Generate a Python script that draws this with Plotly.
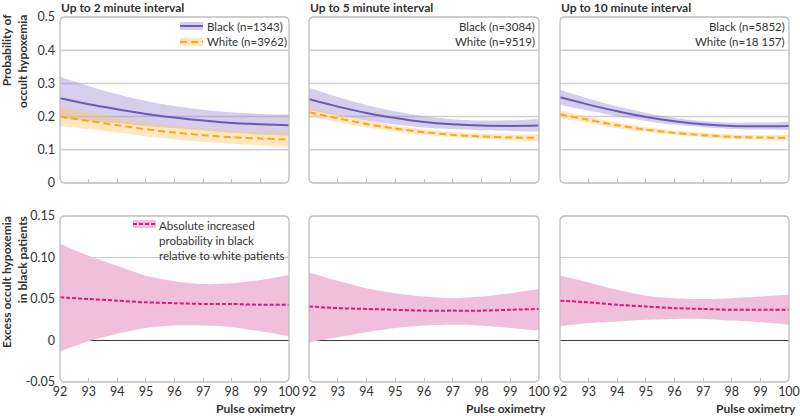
import plotly.graph_objects as go

# ---------------- data ----------------
spo2 = [92, 93, 94, 95, 96, 97, 98, 99, 100]
panel_titles = ["Up to 2 minute interval", "Up to 5 minute interval", "Up to 10 minute interval"]
black_labels = ["Black (n=1343)", "Black (n=3084)", "Black (n=5852)"]
white_labels = ["White (n=3962)", "White (n=9519)", "White (n=18 157)"]
y_top_ticks = [0, 0.1, 0.2, 0.3, 0.4, 0.5]
y_top_text = ["0", "0.1", "0.2", "0.3", "0.4", "0.5"]
y_bot_ticks = [-0.05, 0, 0.05, 0.10, 0.15]
y_bot_text = ["-0.05", "0", "0.05", "0.10", "0.15"]

# 2 minute interval
black_2 = [0.255, 0.237, 0.222, 0.208, 0.197, 0.188, 0.181, 0.177, 0.174]
black_2_hi = [0.320, 0.292, 0.267, 0.247, 0.232, 0.221, 0.213, 0.208, 0.206]
black_2_lo = [0.195, 0.187, 0.180, 0.172, 0.165, 0.158, 0.151, 0.146, 0.142]
white_2 = [0.200, 0.187, 0.174, 0.162, 0.152, 0.144, 0.138, 0.134, 0.131]
white_2_hi = [0.228, 0.212, 0.197, 0.184, 0.173, 0.165, 0.159, 0.156, 0.155]
white_2_lo = [0.172, 0.163, 0.152, 0.141, 0.132, 0.124, 0.118, 0.113, 0.108]
excess_2 = [0.052, 0.050, 0.048, 0.046, 0.045, 0.044, 0.044, 0.043, 0.043]
excess_2_hi = [0.1165, 0.102, 0.090, 0.078, 0.0715, 0.068, 0.069, 0.073, 0.079]
excess_2_lo = [-0.013, -0.001, 0.008, 0.015, 0.018, 0.018, 0.016, 0.011, 0.005]

# 5 minute interval
black_5 = [0.252, 0.230, 0.211, 0.196, 0.184, 0.177, 0.173, 0.172, 0.173]
black_5_hi = [0.287, 0.259, 0.235, 0.216, 0.201, 0.192, 0.188, 0.189, 0.193]
black_5_lo = [0.220, 0.203, 0.188, 0.176, 0.167, 0.162, 0.159, 0.157, 0.155]
white_5 = [0.213, 0.195, 0.178, 0.164, 0.153, 0.145, 0.140, 0.137, 0.136]
white_5_hi = [0.226, 0.206, 0.188, 0.173, 0.161, 0.153, 0.148, 0.146, 0.147]
white_5_lo = [0.200, 0.184, 0.168, 0.155, 0.145, 0.138, 0.133, 0.129, 0.126]
excess_5 = [0.041, 0.039, 0.038, 0.037, 0.036, 0.036, 0.036, 0.037, 0.038]
excess_5_hi = [0.082, 0.072, 0.063, 0.057, 0.053, 0.051, 0.053, 0.057, 0.062]
excess_5_lo = [-0.002, 0.004, 0.010, 0.015, 0.018, 0.019, 0.018, 0.015, 0.012]

# 10 minute interval
black_10 = [0.258, 0.236, 0.216, 0.199, 0.186, 0.177, 0.172, 0.171, 0.172]
black_10_hi = [0.280, 0.254, 0.231, 0.211, 0.196, 0.187, 0.182, 0.182, 0.184]
black_10_lo = [0.236, 0.218, 0.201, 0.187, 0.176, 0.168, 0.163, 0.161, 0.160]
white_10 = [0.207, 0.190, 0.174, 0.161, 0.151, 0.144, 0.139, 0.137, 0.136]
white_10_hi = [0.218, 0.199, 0.182, 0.168, 0.158, 0.151, 0.146, 0.144, 0.145]
white_10_lo = [0.196, 0.181, 0.166, 0.154, 0.145, 0.138, 0.133, 0.130, 0.128]
excess_10 = [0.048, 0.046, 0.043, 0.041, 0.039, 0.038, 0.037, 0.037, 0.037]
excess_10_hi = [0.078, 0.070, 0.061, 0.054, 0.051, 0.050, 0.051, 0.053, 0.055]
excess_10_lo = [0.017, 0.021, 0.023, 0.025, 0.026, 0.026, 0.024, 0.022, 0.019]

black = [black_2, black_5, black_10]
black_hi = [black_2_hi, black_5_hi, black_10_hi]
black_lo = [black_2_lo, black_5_lo, black_10_lo]
white = [white_2, white_5, white_10]
white_hi = [white_2_hi, white_5_hi, white_10_hi]
white_lo = [white_2_lo, white_5_lo, white_10_lo]
excess = [excess_2, excess_5, excess_10]
excess_hi = [excess_2_hi, excess_5_hi, excess_10_hi]
excess_lo = [excess_2_lo, excess_5_lo, excess_10_lo]

# ---------------- style ----------------
W, H = 800, 416
FONT = "Lato"
PURPLE = "#6a5ab4"
PURPLE_BAND = "rgba(150,135,210,0.40)"
ORANGE = "#f7a81b"
ORANGE_BAND = "rgba(253,200,110,0.45)"
MAGENTA = "#e0167f"
PINK_BAND = "#efbfdb"
TEXT = "#333333"
BORDER = "#bdbdbd"
GRID = "#cfcfcf"
FS_TICK = 12.5
FS_TXT = 11.5
FS_BOLD = 12

col_px = [(60, 289), (309, 539), (560, 789)]
top_px = (17, 183)
bot_px = (216, 382)


def px_x(p):
    return p / W


def px_y(p):
    return (H - p) / H


def sfx(n):
    return "" if n == 1 else str(n)


fig = go.Figure()
layout = dict(
    width=W, height=H, margin=dict(l=0, r=0, t=0, b=0, autoexpand=False),
    paper_bgcolor="white", plot_bgcolor="white", showlegend=False,
    font=dict(family=FONT, size=12, color=TEXT),
)
shapes = []
annotations = []


def spline(xs, ys, n, **kw):
    return go.Scatter(x=xs, y=ys, xaxis="x" + sfx(n), yaxis="y" + sfx(n), mode="lines",
                      hoverinfo="skip", **kw)


for i in range(3):
    tn = i + 1
    bn = i + 4
    x0p, x1p = col_px[i]
    dom_x = [px_x(x0p), px_x(x1p)]
    # axes
    for n, row in ((tn, "top"), (bn, "bot")):
        xkey = "xaxis" + sfx(n)
        ykey = "yaxis" + sfx(n)
        ydom = [px_y(top_px[1]), px_y(top_px[0])] if row == "top" else [px_y(bot_px[1]), px_y(bot_px[0])]
        layout[xkey] = dict(
            domain=dom_x, anchor="y" + sfx(n), range=[92, 100], tickvals=spo2,
            ticktext=[str(v) for v in spo2], ticks="inside", ticklen=4, tickwidth=1,
            tickcolor=BORDER, showgrid=False, zeroline=False, showline=False,
            showticklabels=(row == "bot"), tickfont=dict(size=FS_TICK, color=TEXT),
            fixedrange=True, automargin=False,
        )
        if row == "top":
            yd = dict(range=[0, 0.5], tickvals=y_top_ticks, ticktext=y_top_text)
        else:
            yd = dict(range=[-0.05, 0.15], tickvals=y_bot_ticks, ticktext=y_bot_text)
        layout[ykey] = dict(
            domain=ydom, anchor="x" + sfx(n), ticks="", showgrid=False, zeroline=False,
            showline=False, showticklabels=(i == 0), ticklabelstandoff=4,
            tickfont=dict(size=FS_TICK, color=TEXT), fixedrange=True, automargin=False, **yd,
        )

    # grid lines (top)
    for gv in y_top_ticks[1:-1]:
        shapes.append(dict(type="line", xref="x" + sfx(tn) + " domain", yref="y" + sfx(tn),
                           x0=0, x1=1, y0=gv, y1=gv, layer="below",
                           line=dict(color=GRID, width=1.5)))
    # grid lines (bottom)
    shapes.append(dict(type="line", xref="x" + sfx(bn) + " domain", yref="y" + sfx(bn),
                       x0=0, x1=1, y0=0.10, y1=0.10, layer="below",
                       line=dict(color=GRID, width=1.2)))
    shapes.append(dict(type="line", xref="x" + sfx(bn) + " domain", yref="y" + sfx(bn),
                       x0=0, x1=1, y0=0, y1=0, layer="below",
                       line=dict(color="#3a3a3a", width=1.2)))

    # rounded borders
    r = 5
    for (ya, yb) in (top_px, bot_px):
        xl, xr = x0p, x1p
        path = (f"M {px_x(xl + r)},{px_y(ya)} L {px_x(xr - r)},{px_y(ya)} "
                f"Q {px_x(xr)},{px_y(ya)} {px_x(xr)},{px_y(ya + r)} "
                f"L {px_x(xr)},{px_y(yb - r)} Q {px_x(xr)},{px_y(yb)} {px_x(xr - r)},{px_y(yb)} "
                f"L {px_x(xl + r)},{px_y(yb)} Q {px_x(xl)},{px_y(yb)} {px_x(xl)},{px_y(yb - r)} "
                f"L {px_x(xl)},{px_y(ya + r)} Q {px_x(xl)},{px_y(ya)} {px_x(xl + r)},{px_y(ya)} Z")
        shapes.append(dict(type="path", xref="paper", yref="paper", path=path,
                           layer="above", line=dict(color=BORDER, width=1.3)))

    sm = 0.8
    # top traces: bands
    fig.add_trace(spline(spo2, black_lo[i], tn, line=dict(width=0, shape="spline", smoothing=sm)))
    fig.add_trace(spline(spo2, black_hi[i], tn, line=dict(width=0, shape="spline", smoothing=sm),
                         fill="tonexty", fillcolor=PURPLE_BAND))
    fig.add_trace(spline(spo2, white_lo[i], tn, line=dict(width=0, shape="spline", smoothing=sm)))
    fig.add_trace(spline(spo2, white_hi[i], tn, line=dict(width=0, shape="spline", smoothing=sm),
                         fill="tonexty", fillcolor=ORANGE_BAND))
    fig.add_trace(spline(spo2, black[i], tn, line=dict(color=PURPLE, width=2, shape="spline", smoothing=sm)))
    fig.add_trace(spline(spo2, white[i], tn, line=dict(color=ORANGE, width=2, shape="spline",
                                                        smoothing=sm, dash="7px,4px")))

    # bottom traces
    fig.add_trace(spline(spo2, excess_lo[i], bn, line=dict(width=0, shape="spline", smoothing=sm)))
    fig.add_trace(spline(spo2, excess_hi[i], bn, line=dict(width=0, shape="spline", smoothing=sm),
                         fill="tonexty", fillcolor=PINK_BAND))
    fig.add_trace(spline(spo2, excess[i], bn, line=dict(color=MAGENTA, width=2, shape="spline",
                                                         smoothing=sm, dash="4px,2px")))

    # panel title
    annotations.append(dict(xref="paper", yref="paper", x=px_x(x0p - 1), y=px_y(7),
                            xanchor="left", yanchor="middle", showarrow=False,
                            text="<b>" + panel_titles[i] + "</b>",
                            font=dict(size=FS_BOLD, color=TEXT)))
    # x axis title
    annotations.append(dict(xref="paper", yref="paper", x=px_x(x1p + 9), y=px_y(408),
                            xanchor="right", yanchor="middle", showarrow=False,
                            text="<b>Pulse oximetry</b>", font=dict(size=FS_BOLD, color=TEXT)))

    # top legend text
    if i == 0:
        annotations.append(dict(xref="paper", yref="paper", x=px_x(205), y=px_y(26),
                                xanchor="left", yanchor="middle", showarrow=False,
                                text=black_labels[i], font=dict(size=FS_TXT, color=TEXT)))
        annotations.append(dict(xref="paper", yref="paper", x=px_x(205), y=px_y(42),
                                xanchor="left", yanchor="middle", showarrow=False,
                                text=white_labels[i], font=dict(size=FS_TXT, color=TEXT)))
    else:
        annotations.append(dict(xref="paper", yref="paper", x=px_x(x1p - 2), y=px_y(26),
                                xanchor="right", yanchor="middle", showarrow=False,
                                text=black_labels[i], font=dict(size=FS_TXT, color=TEXT)))
        annotations.append(dict(xref="paper", yref="paper", x=px_x(x1p - 2), y=px_y(42),
                                xanchor="right", yanchor="middle", showarrow=False,
                                text=white_labels[i], font=dict(size=FS_TXT, color=TEXT)))

# legend samples (panel 1)
shapes += [
    dict(type="rect", xref="paper", yref="paper", x0=px_x(180), x1=px_x(203),
         y0=px_y(30), y1=px_y(22), fillcolor=PURPLE_BAND, line=dict(width=0)),
    dict(type="line", xref="paper", yref="paper", x0=px_x(180), x1=px_x(203),
         y0=px_y(26), y1=px_y(26), line=dict(color=PURPLE, width=2)),
    dict(type="rect", xref="paper", yref="paper", x0=px_x(180), x1=px_x(203),
         y0=px_y(46), y1=px_y(38), fillcolor=ORANGE_BAND, line=dict(width=0)),
    dict(type="line", xref="paper", yref="paper", x0=px_x(180), x1=px_x(203),
         y0=px_y(42), y1=px_y(42), line=dict(color=ORANGE, width=2, dash="7px,4px")),
    dict(type="rect", xref="paper", yref="paper", x0=px_x(133), x1=px_x(156),
         y0=px_y(228), y1=px_y(220), fillcolor=PINK_BAND, line=dict(width=0)),
    dict(type="line", xref="paper", yref="paper", x0=px_x(133), x1=px_x(156),
         y0=px_y(224), y1=px_y(224), line=dict(color=MAGENTA, width=2, dash="4px,2px")),
]
annotations.append(dict(xref="paper", yref="paper", x=px_x(157), y=px_y(217),
                        xanchor="left", yanchor="top", showarrow=False, align="left",
                        text="Absolute increased<br>probability in black<br>relative to white patients",
                        font=dict(size=FS_TXT, color=TEXT)))

# y axis titles
annotations.append(dict(xref="paper", yref="paper", x=px_x(14), y=px_y(12),
                        xanchor="center", yanchor="top", showarrow=False, textangle=-90,
                        align="right", text="<b>Probability of<br>occult hypoxemia</b>",
                        font=dict(size=FS_BOLD, color=TEXT)))
annotations.append(dict(xref="paper", yref="paper", x=px_x(14), y=px_y(214),
                        xanchor="center", yanchor="top", showarrow=False, textangle=-90,
                        align="right", text="<b>Excess occult hypoxemia<br>in black patients</b>",
                        font=dict(size=FS_BOLD, color=TEXT)))

layout["shapes"] = shapes
layout["annotations"] = annotations
fig.update_layout(**layout)
fig.write_html("out.html", config={"displayModeBar": False},
               post_script="document.body.style.margin='0';")
